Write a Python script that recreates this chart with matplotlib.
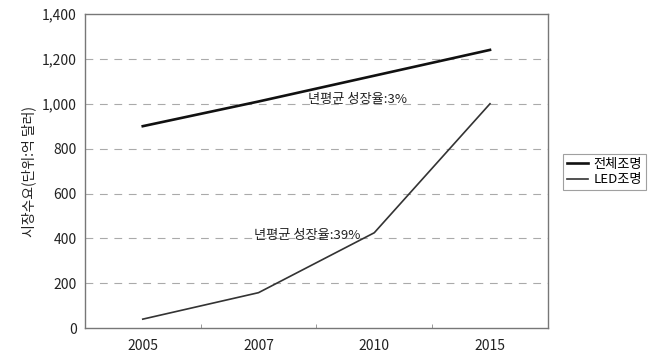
import numpy as np
import matplotlib
matplotlib.use("Agg")
import matplotlib.pyplot as plt

plt.rcParams['font.family'] = ['Noto Sans CJK KR', 'DejaVu Sans']

years = ["2005", "2007", "2010", "2015"]
total = [900, 1010, 1125, 1240]   # 전체조명
led = [40, 158, 425, 1000]        # LED조명
yticks = [0, 200, 400, 600, 800, 1000, 1200, 1400]

fig = plt.figure(figsize=(6.53, 3.59), dpi=100)
ax = fig.add_axes([0.130, 0.086, 0.709, 0.875])

x = np.arange(len(years))
ax.plot(x, total, color="#111111", lw=1.9, label="전체조명")
ax.plot(x, led, color="#333333", lw=1.2, label="LED조명")

ax.set_xlim(-0.5, len(years) - 0.5)
ax.set_ylim(0, 1400)
ax.set_yticks(yticks)
ax.set_yticklabels([f"{v:,}" for v in yticks], fontsize=10, color="#222222")
ax.set_xticks(x)
ax.set_xticklabels(years, fontsize=10, color="#222222")
ax.set_xticks(np.arange(-0.5, len(years)), minor=True)
ax.tick_params(axis="x", which="major", length=0, pad=8)
ax.tick_params(axis="x", which="minor", direction="in", length=3, color="#888888")
ax.tick_params(axis="y", length=0, pad=6)

for v in yticks[1:-1]:
    ax.axhline(v, color="#aaaaaa", lw=0.8, ls=(0, (7, 6)), zorder=0)

for s in ax.spines.values():
    s.set_color("#777777")
    s.set_linewidth(1.0)

ax.set_ylabel("시장수요(단위:억 달러)", fontsize=10, color="#222222", labelpad=4)

ax.text(1.43, 1020, "년평균 성장율:3%", fontsize=9.5, ha="left", va="center", color="#222222")
ax.text(0.96, 415, "년평균 성장율:39%", fontsize=9.5, ha="left", va="center", color="#222222")

leg = fig.legend(loc="upper left", bbox_to_anchor=(0.852, 0.59), fontsize=9.5,
                 frameon=True, fancybox=False, handlelength=1.6, handletextpad=0.4,
                 borderpad=0.3, labelspacing=0.2, edgecolor="#888888")
leg.get_frame().set_linewidth(0.8)

fig.savefig("out.png", dpi=100)
